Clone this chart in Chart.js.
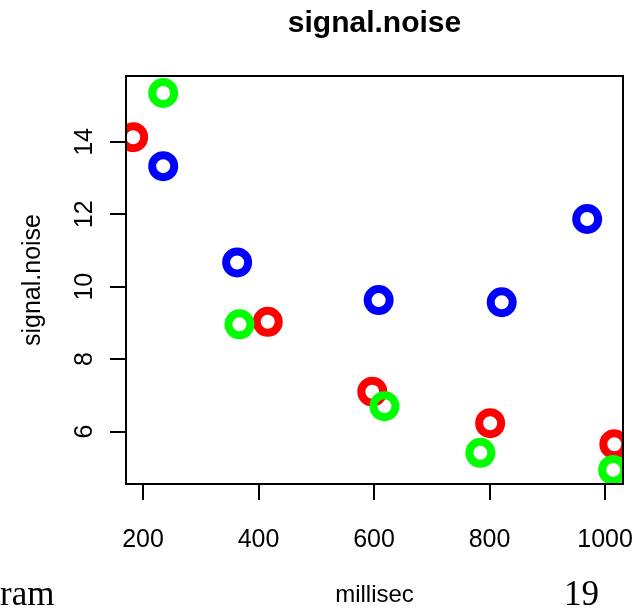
<!DOCTYPE html>
<html>
<head>
<meta charset="utf-8">
<script src="https://cdn.jsdelivr.net/npm/chart.js@4"></script>
<style>
  html, body { margin: 0; padding: 0; background: #fff; }
  #wrap { position: relative; width: 644px; height: 616px; overflow: hidden; }
  canvas { position: absolute; left: 0; top: 0; }
  .foot { position: absolute; font-family: "Liberation Serif", "Times New Roman", serif;
          font-size: 35px; line-height: 35px; color: #000; white-space: nowrap; }
</style>
</head>
<body>
<div id="wrap">
  <canvas id="plot" width="644" height="616"></canvas>
  <span class="foot" style="left:0px; top:576px;">ram</span>
  <span class="foot" style="left:564px; top:576px;">19</span>
</div>
<script>
// signal.noise against millisec, three groups
var redX = [183, 416, 597, 801, 1016];
var redY = [14.13, 9.03, 7.1, 6.23, 5.65];
var greenX = [235, 367, 618, 784, 1014];
var greenY = [15.35, 8.96, 6.7, 5.41, 4.94];
var blueX = [235, 363, 608, 821, 969];
var blueY = [13.33, 10.67, 9.63, 9.57, 11.87];

var xTicks = [200, 400, 600, 800, 1000];
var yTicks = [6, 8, 10, 12, 14];
var xRange = [170.6, 1031];
var yRange = [4.55, 15.82];

var FONT = '"Liberation Sans", Arial, Helvetica, sans-serif';

function pts(xs, ys) {
    return xs.map(function (x, i) { return { x: x, y: ys[i] }; });
}

function ring(label, color, xs, ys, order) {
    return {
        label: label,
        data: pts(xs, ys),
        borderColor: color,
        backgroundColor: 'rgba(0,0,0,0)',
        pointRadius: 11,
        pointHoverRadius: 11,
        pointBorderWidth: 8,
        pointHoverBorderWidth: 8,
        showLine: false,
        clip: 0,
        order: order
    };
}

function plain(v) { return String(v); }

// box around the plotting region, drawn over the points
var frame = {
    id: 'frame',
    afterDatasetsDraw: function (chart) {
        var a = chart.chartArea, ctx = chart.ctx;
        ctx.save();
        ctx.strokeStyle = '#000';
        ctx.lineWidth = 2;
        ctx.strokeRect(a.left, a.top, a.right - a.left, a.bottom - a.top);
        ctx.restore();
    }
};

new Chart(document.getElementById('plot'), {
    type: 'scatter',
    data: {
        datasets: [
            ring('red', '#ff0000', redX, redY, 3),
            ring('green', '#00ff00', greenX, greenY, 2),
            ring('blue', '#0000ff', blueX, blueY, 1)
        ]
    },
    options: {
        responsive: false,
        animation: false,
        events: [],
        layout: { padding: { left: 0, right: 21, top: 0, bottom: 0 } },
        plugins: {
            legend: { display: false },
            tooltip: { enabled: false },
            title: {
                display: true,
                text: 'signal.noise',
                fullSize: false,
                color: '#000',
                font: { family: FONT, size: 30, weight: 'bold' },
                padding: { top: 6, bottom: 34 }
            }
        },
        scales: {
            x: {
                type: 'linear',
                min: xRange[0],
                max: xRange[1],
                afterBuildTicks: function (axis) {
                    axis.ticks = xTicks.map(function (v) { return { value: v }; });
                },
                afterFit: function (scale) {
                    scale.height = 132;
                    scale.paddingLeft = 0;
                    scale.paddingRight = 0;
                },
                border: { display: false },
                grid: {
                    drawOnChartArea: false,
                    drawTicks: true,
                    tickLength: 16,
                    color: '#000',
                    lineWidth: 2
                },
                ticks: {
                    color: '#000',
                    padding: 25,
                    maxRotation: 0,
                    callback: plain,
                    font: { family: FONT, size: 25 }
                },
                title: {
                    display: true,
                    text: 'millisec',
                    color: '#000',
                    font: { family: FONT, size: 24 },
                    padding: { top: 0, bottom: 6 }
                }
            },
            y: {
                type: 'linear',
                min: yRange[0],
                max: yRange[1],
                afterBuildTicks: function (axis) {
                    axis.ticks = yTicks.map(function (v) { return { value: v }; });
                },
                afterFit: function (scale) {
                    scale.width = 126;
                    scale.paddingTop = 0;
                    scale.paddingBottom = 0;
                },
                border: { display: false },
                grid: {
                    drawOnChartArea: false,
                    drawTicks: true,
                    tickLength: 16,
                    color: '#000',
                    lineWidth: 2
                },
                ticks: {
                    color: '#000',
                    padding: 11,
                    minRotation: 90,
                    maxRotation: 90,
                    crossAlign: 'center',
                    callback: plain,
                    font: { family: FONT, size: 25 }
                },
                title: {
                    display: true,
                    text: 'signal.noise',
                    color: '#000',
                    font: { family: FONT, size: 25 },
                    padding: { top: 18, bottom: 0 }
                }
            }
        }
    },
    plugins: [frame]
});
</script>
</body>
</html>
